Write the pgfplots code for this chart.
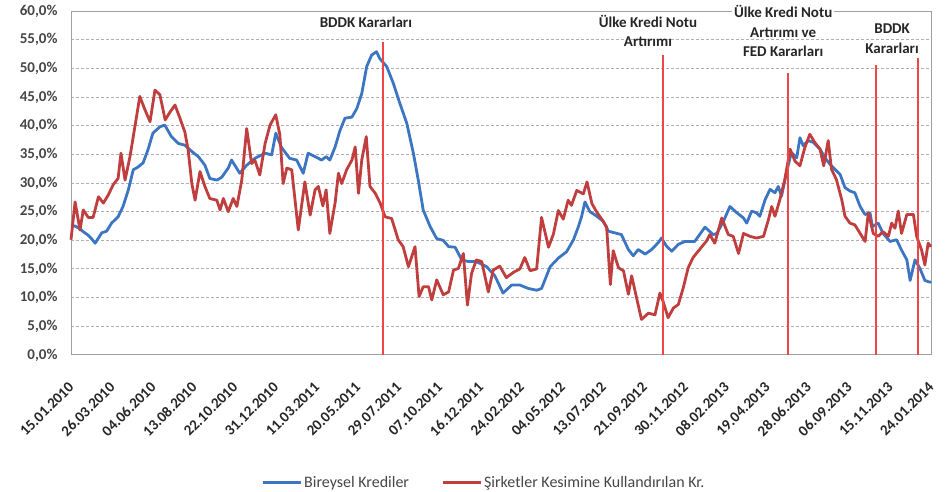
\documentclass[border=0pt]{standalone}
\usepackage{fontspec}
\setmainfont{Carlito}
\usepackage{pgfplots}
\pgfplotsset{compat=1.18}

\definecolor{serblue}{RGB}{60,118,195}
\definecolor{serred}{RGB}{192,62,62}
\definecolor{evtred}{RGB}{240,70,70}
\definecolor{gridgray}{RGB}{175,175,175}
\definecolor{framegray}{RGB}{160,160,160}
\definecolor{labgray}{RGB}{70,70,70}

\begin{document}
\begin{tikzpicture}
\useasboundingbox (0,0) rectangle (950pt,492pt);
\begin{axis}[
    at={(71pt,137pt)}, anchor=south west,
    scale only axis,
    width=860pt, height=344pt,
    xmin=0, xmax=210,
    ymin=0, ymax=60,
    clip=false,
    axis line style={framegray, line width=1pt},
    xtick={0,10,...,210},
    xticklabels={15.01.2010,26.03.2010,04.06.2010,13.08.2010,22.10.2010,31.12.2010,
        11.03.2011,20.05.2011,29.07.2011,07.10.2011,16.12.2011,24.02.2012,
        04.05.2012,13.07.2012,21.09.2012,30.11.2012,08.02.2013,19.04.2013,
        28.06.2013,06.09.2013,15.11.2013,24.01.2014},
    xticklabel style={font=\fontsize{15}{18}\selectfont\bfseries, text=black!85, inner sep=1pt, yshift=-29pt, xshift=1pt, rotate=45, anchor=east},
    ytick={0,5,...,60},
    yticklabel={\pgfmathprintnumber[fixed,fixed zerofill,precision=1,use comma,assume math mode=true]{\tick}\%},
    yticklabel style={font=\fontsize{15}{18}\selectfont\bfseries, text=labgray, xshift=-10pt},
    major tick length=0pt,
    ymajorgrids,
    grid style={gridgray, densely dashed, line width=1pt},
    legend style={at={(0.48,-0.37)}, anchor=center, draw=none, fill=none,
        font=\fontsize{16}{19}\selectfont, text=labgray, legend columns=2,
        /tikz/every even column/.append style={column sep=30pt}},
    legend image code/.code={\draw[#1, line width=3pt] (0pt,0pt) -- (38pt,0pt);},
]
% Bireysel Krediler
\addplot[serblue, line width=2.8pt, line join=round] coordinates {
(0,22.4) (1,22.5) (2,22.1) (3,21.5) (4,21.0) (5,20.3) (5.9,19.5) (7.5,21.3)
(8.7,21.6) (9.9,23.0) (11.5,24.1) (12.7,25.9) (14,28.8) (15.2,32.3) (16.4,32.8)
(17.6,33.5) (18.8,35.8) (20,38.7) (21.7,39.8) (22.9,40.1) (24.5,38.1) (26.2,36.9)
(27.8,36.6) (29.5,35.5) (31.1,34.6) (32.7,33.1) (33.9,30.8) (35.6,30.5) (36.8,31.0)
(38.4,32.6) (39.2,34.0) (40,33.1) (41.2,31.7) (42.9,33.1) (44.9,34.3) (47.4,35.2)
(49,34.9) (50,38.7) (51.4,36.2) (53.4,34.3) (55.1,34.0) (56.7,31.7) (57.9,35.2)
(59.6,34.6) (61.2,34.0) (62.3,34.6) (63.2,34.0) (64.5,36.3) (65.7,39.2) (66.9,41.3)
(68.6,41.5) (69.8,43.0) (71,45.6) (72.2,50.3) (73.4,52.3) (74.6,52.9) (75.4,51.7)
(77.1,50.3) (78.7,47.4) (80.3,43.9) (82,40.4) (83.6,35.2) (84.8,30.5) (86,25.3)
(87.7,22.4) (89.3,20.3) (90.9,20.0) (92.2,18.9) (93.8,18.8) (95.4,16.6) (97,16.3)
(99,16.3) (101.5,15.4) (103.5,13.8) (105.5,10.8) (107.6,12.2) (109.6,12.2)
(111.7,11.6) (113.7,11.3) (114.9,11.6) (117,15.4) (119,16.9) (121,18.0) (122.7,20.1)
(123.9,22.4) (124.7,24.2) (125.5,26.7) (126.7,25.0) (128.4,24.2) (130,23.3)
(131.2,21.6) (132.8,21.3) (134.4,21.0) (136.1,18.4) (137.3,17.3) (138.5,18.4)
(140.2,17.6) (141.8,18.4) (143.4,19.6) (144.2,20.4) (145.4,19.0) (146.7,18.1)
(148.3,19.3) (149.9,19.8) (152.3,19.8) (154.8,22.3) (156.8,21.0) (157.7,21.2)
(159.3,23.3) (160.9,25.9) (162.6,24.8) (164.2,23.9) (165,23.0) (166.2,25.1)
(167.4,24.8) (168.2,24.2) (169.5,27.1) (170.7,28.9) (171.9,28.3) (172.7,29.4)
(173.5,27.7) (174.7,31.8) (175.9,35.3) (177.2,34.4) (178,37.9) (178.8,36.5)
(180,37.4) (181.2,37.1) (182.9,35.9) (184.1,34.4) (185.3,33.3) (186.5,32.4)
(187.8,31.5) (189,29.2) (190.2,28.6) (191.4,28.3) (192.7,25.9) (193.9,24.5)
(195.1,24.8) (195.7,22.4) (197.1,23.0) (198.3,21.2) (200,19.8) (201.6,20.1)
(202.8,18.3) (204.1,16.6) (204.9,13.0) (206.1,16.6) (207.3,15.1) (208.5,13.0)
(209.7,12.7) (210,12.8)
};
\addlegendentry{Bireysel Krediler}
% Sirketler Kesimine Kullandirilan Kr.
\addplot[serred, line width=2.8pt, line join=round] coordinates {
(0,20.1) (1,26.7) (2.2,21.8) (3,25.3) (4.2,24.0) (5.4,24.0) (6.7,27.6) (7.9,26.5)
(9.1,27.9) (10.3,29.7) (11.5,30.8) (12.2,35.2) (13.2,30.5) (14.4,34.6) (15.6,39.8)
(16.8,45.1) (18.1,42.7) (19.3,40.7) (20.5,46.2) (21.7,45.4) (23,41.0) (24.2,42.4)
(25.4,43.6) (26.6,41.3) (27.8,38.9) (28.6,35.8) (29.5,29.9) (30.3,27.0) (31.5,32.0)
(32.7,29.4) (33.9,27.3) (35.6,27.0) (36.4,25.3) (37.2,27.3) (38.4,25.0) (39.6,27.3)
(40.5,25.9) (41.7,30.5) (42.9,39.5) (44.1,33.4) (44.9,34.0) (46.1,31.4) (47.4,36.9)
(48.6,40.1) (50,41.9) (51,38.4) (51.8,29.9) (52.7,32.6) (53.9,32.3) (55.5,21.8)
(57.1,30.2) (58.4,24.4) (59.6,28.8) (60.4,29.4) (61.5,26.0) (62.3,28.8) (63.2,21.2)
(64.5,26.6) (65.3,31.7) (66.1,29.9) (67.3,32.3) (68.6,34.0) (69.4,36.3) (70.2,28.2)
(71,34.0) (72.1,38.1) (73,29.4) (74.3,28.2) (75.5,26.5) (76.7,24.1) (78.3,23.8)
(79.9,20.1) (81.1,18.9) (82.4,15.4) (84,18.9) (85,10.2) (86,11.9) (87.3,11.9)
(88.1,9.6) (89.3,13.1) (90.9,10.5) (92.2,11.0) (93.4,14.8) (94.6,15.1) (95.8,17.7)
(96.8,8.7) (97.8,14.2) (99,16.6) (100.3,16.3) (101.9,11.0) (103.1,14.8) (104.7,15.5)
(106.3,13.5) (108,14.4) (109.6,15.0) (110.8,17.0) (112.1,14.7) (113.7,15.0)
(114.9,24.0) (116.6,18.8) (117.8,21.1) (119,25.2) (120.2,23.7) (121.4,27.0)
(122.2,26.1) (123.5,28.7) (124.3,28.4) (125.1,28.1) (126,30.2) (127.2,26.4)
(128.4,24.9) (129.6,23.7) (130.8,22.3) (131.7,12.3) (132.4,18.2) (133.7,15.2)
(134.9,14.7) (136.1,10.6) (136.9,13.8) (138.1,10.0) (139.3,6.2) (141,7.3)
(142.6,7.0) (143.8,10.8) (144.6,9.3) (145.8,6.5) (147.1,8.2) (148.3,8.8)
(149.5,11.7) (150.7,15.2) (151.9,17.0) (153.6,18.5) (155.2,19.9) (156,21.0)
(157.2,19.5) (158.9,23.9) (160.5,21.0) (161.7,20.7) (163,17.7) (164.2,21.2)
(165.8,20.7) (167.4,20.4) (169.1,20.7) (170.3,23.6) (171.1,25.9) (171.9,24.2)
(173.1,27.1) (174.3,30.6) (175.6,35.9) (176.8,33.8) (178,33.0) (179.2,36.2)
(180.4,38.5) (181.6,37.1) (182.9,35.9) (183.8,33.0) (184.9,37.4) (185.7,32.4)
(186.9,30.6) (188.2,27.1) (189,24.2) (190.2,23.0) (191.4,22.7) (192.7,21.2)
(193.9,19.8) (194.7,24.8) (195.9,21.2) (197.1,20.7) (198.3,21.5) (199.6,20.7)
(200.4,23.0) (201.2,22.1) (202,25.1) (202.8,21.2) (204.1,24.5) (205.7,24.5)
(206.5,20.7) (207.7,18.3) (208.5,15.7) (209.3,19.5) (210,18.9)
};
\addlegendentry{Şirketler Kesimine Kullandırılan Kr.}
% event lines
\addplot[evtred, line width=1.4pt, forget plot] coordinates {(76.2,0) (76.2,54.6)};
\addplot[evtred, line width=1.4pt, forget plot] coordinates {(144.6,0) (144.6,52.3)};
\addplot[evtred, line width=1.4pt, forget plot] coordinates {(175.1,0) (175.1,49.2)};
\addplot[evtred, line width=1.4pt, forget plot] coordinates {(196.6,0) (196.6,50.6)};
\addplot[evtred, line width=1.4pt, forget plot] coordinates {(206.8,0) (206.8,51.8)};
% annotations
\begin{scope}[every node/.style={font=\fontsize{15}{18}\selectfont\bfseries, text=black!85, inner sep=0pt}]
\node at (axis cs:72,58.1) {BDDK Kararları};
\node at (axis cs:140.9,58.1) {Ülke Kredi Notu};
\node at (axis cs:140.9,54.6) {Artırımı};
\node[fill=white, inner xsep=2pt] at (axis cs:173.9,60.0) {Ülke Kredi Notu};
\node at (axis cs:173.9,56.3) {Artırımı ve};
\node at (axis cs:173.9,53.0) {FED Kararları};
\node at (axis cs:200.5,56.9) {BDDK};
\node at (axis cs:200.5,53.5) {Kararları};
\end{scope}
\end{axis}
\end{tikzpicture}
\end{document}
